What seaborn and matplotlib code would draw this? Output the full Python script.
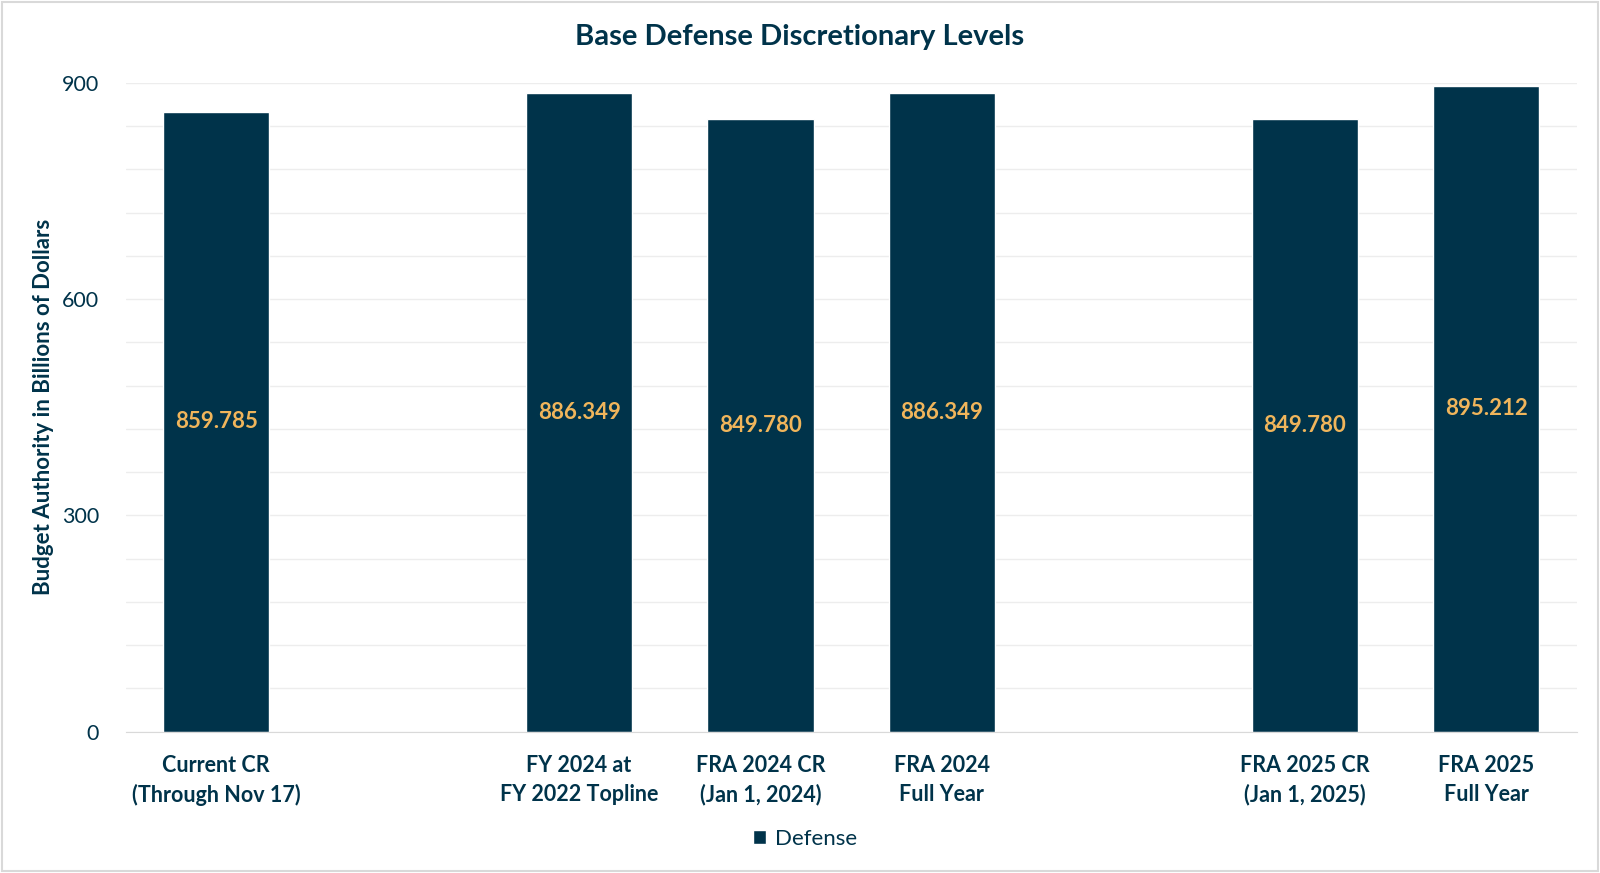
import pandas as pd
import matplotlib.pyplot as plt
import seaborn as sns

# chart data (blank slots keep the gaps between groups)
slots = ["Current CR\n(Through Nov 17)", " ",
         "FY 2024 at\nFY 2022 Topline", "FRA 2024 CR\n(Jan 1, 2024)",
         "FRA 2024\nFull Year", "  ",
         "FRA 2025 CR\n(Jan 1, 2025)", "FRA 2025\nFull Year"]
scenarios = ["Current CR\n(Through Nov 17)", "FY 2024 at\nFY 2022 Topline",
             "FRA 2024 CR\n(Jan 1, 2024)", "FRA 2024\nFull Year",
             "FRA 2025 CR\n(Jan 1, 2025)", "FRA 2025\nFull Year"]
defense = [859.785, 886.349, 849.780, 886.349, 849.780, 895.212]
yticks = [0, 300, 600, 900]

navy = "#00334A"
gold = "#F0B55B"

df = pd.DataFrame({"scenario": scenarios, "value": defense})

sns.set_style("white")
plt.rcParams["font.family"] = ["Lato", "DejaVu Sans"]

fig = plt.figure(figsize=(16, 8.73), dpi=100)
ax = fig.add_axes([0.0785, 0.162, 0.907, 0.743])

sns.barplot(data=df, x="scenario", y="value", order=slots, color=navy,
            width=0.585, saturation=1, label="Defense", legend=False, ax=ax)
if ax.get_legend() is not None:
    ax.get_legend().remove()

# value labels in the middle of each bar
ax.bar_label(ax.containers[0], labels=[f"{v:.3f}" for v in defense],
             label_type="center", color=gold, fontsize=16, fontweight="bold")

ax.set_ylim(0, 900)
ax.set_yticks(yticks)
ax.set_yticks(range(0, 901, 60), minor=True)
ax.grid(axis="y", which="both", color="#EDEDED", linewidth=1)
ax.set_axisbelow(True)
ax.tick_params(axis="y", which="both", length=0, pad=19, labelsize=15.5, labelcolor=navy)
ax.tick_params(axis="x", length=0, pad=17, labelsize=15.5, labelcolor=navy)
for lab in ax.get_xticklabels():
    lab.set_fontweight("bold")
    lab.set_linespacing(1.45)

for side in ["top", "right", "left"]:
    ax.spines[side].set_visible(False)
ax.spines["bottom"].set_color("#D9D9D9")

ax.set_xlabel("")
ax.set_ylabel("Budget Authority in Billions of Dollars", fontsize=16,
              fontweight="bold", color=navy, labelpad=6)
fig.suptitle("Base Defense Discretionary Levels", x=0.5, y=0.958, va="center",
             fontsize=21, fontweight="bold", color=navy)

handles, labels = ax.get_legend_handles_labels()
fig.legend(handles, labels, loc="center", bbox_to_anchor=(0.503, 0.039),
           frameon=False, fontsize=16, labelcolor=navy,
           handlelength=0.6, handleheight=0.6, handletextpad=0.4)

# light frame around the whole chart
fig.patches.append(plt.Rectangle((0.001, 0.002), 0.998, 0.996, transform=fig.transFigure,
                                 fill=False, edgecolor="#D9D9D9", linewidth=1.5))

plt.savefig("out.png", dpi=100)
